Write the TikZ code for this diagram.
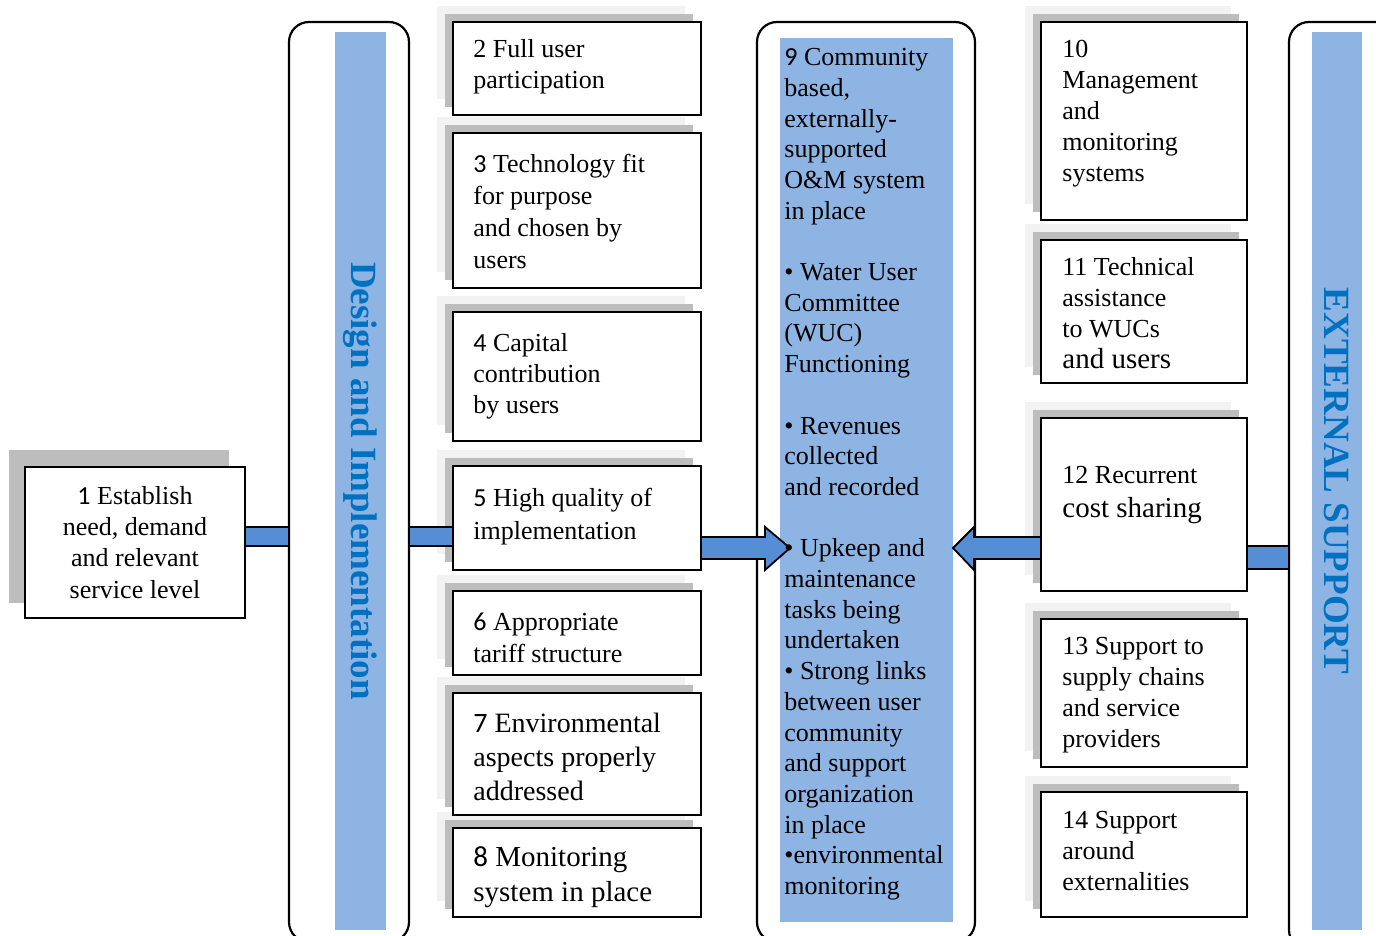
\documentclass[tikz,border=0pt]{standalone}
\usepackage{fontspec}
\setmainfont{Liberation Serif}
\newfontfamily\numfont{Carlito}
\usetikzlibrary{positioning}
\definecolor{bandblue}{HTML}{8EB4E3}
\definecolor{barblue}{HTML}{558ED5}
\definecolor{titleblue}{HTML}{0070C0}
\definecolor{shadelight}{HTML}{F2F2F2}
\definecolor{shadedark}{HTML}{BDBDBD}
\newcommand{\nsf}[1]{{\numfont #1}}

\begin{document}
\begin{tikzpicture}[x=0.5pt,y=-0.5pt,
    card/.style={draw, line width=1pt, fill=white, anchor=north west, inner sep=0pt, outer sep=0pt},
    txt/.style={align=left, inner sep=0pt, font=\fontsize{13}{15.5}\selectfont},
    frame/.style={draw, line width=1.1pt, fill=white, rounded corners=10pt, anchor=north west, inner sep=0pt, outer sep=0pt},
    band/.style={fill=bandblue, anchor=north west, inner sep=0pt, outer sep=0pt},
    bandtext/.style={text=titleblue, font=\fontsize{18.5}{22}\selectfont\bfseries, rotate=-90},
    bar/.style={draw, line width=0.9pt, fill=barblue}]
    \useasboundingbox (0,0) rectangle (1376,936);
    \clip (0,0) rectangle (1376,936);
    % three columns: frames with blue bands
    \node[frame, minimum width=60pt, minimum height=460pt] (dframe) at (289,22) {};
    \node[frame, minimum width=109pt, minimum height=460pt] (cframe) at (757,22) {};
    \node[frame, minimum width=70pt, minimum height=464pt] (eframe) at (1289,22) {};
    \node[band, minimum width=25.5pt, minimum height=449pt] (dband) at (335,32) {};
    \node[band, minimum width=86.5pt, minimum height=442pt] (cband) at (780,38) {};
    \node[band, minimum width=25pt, minimum height=449pt] (eband) at (1312,32) {};
    \node[bandtext] (dtitle) at (dband.center) {Design and Implementation};
    \node[bandtext] (etitle) at (eband.center) {EXTERNAL SUPPORT};
    % shadows behind the cards
    \fill[shadedark] (9,450) rectangle (229,603);
    \foreach \l/\t/\r/\b in {453/22/701/115, 453/133/701/288, 453/312/701/441,
        453/466/701/570, 453/591/701/675, 453/693/701/815, 453/828/701/917,
        1041/22/1247/220, 1041/240/1247/383, 1041/418/1247/591,
        1041/619/1247/767, 1041/792/1247/917} {
        \fill[shadelight] (\l-16,\t-16) rectangle (\r-16,\b-16);
        \fill[shadedark] (\l-8,\t-8) rectangle (\r-8,\b-8);
    }
    % cards
    \node[card, align=center, minimum width=110pt, minimum height=75.5pt,
        font=\fontsize{13}{15.6}\selectfont] (b1) at (25,467)
        {\nsf{1} Establish\\need, demand\\and relevant\\service level};
    \foreach \n/\l/\t/\r/\b in {2/453/22/701/115, 3/453/133/701/288, 4/453/312/701/441,
        5/453/466/701/570, 6/453/591/701/675, 7/453/693/701/815, 8/453/828/701/917,
        10/1041/22/1247/220, 11/1041/240/1247/383, 12/1041/418/1247/591,
        13/1041/619/1247/767, 14/1041/792/1247/917} {
        \node[card, minimum width={(\r-\l)*0.5pt}, minimum height={(\b-\t)*0.5pt}] (b\n) at (\l,\t) {};
    }
    % card texts
    \node[txt, below right=8.75pt and 10pt of b2.north west] (t2) {2 Full user\\participation};
    \node[txt, font=\fontsize{13}{16}\selectfont, below right=10.5pt and 10pt of b3.north west] (t3)
        {\nsf{3} Technology fit\\for purpose\\and chosen by\\users};
    \node[txt, below right=10.75pt and 10pt of b4.north west] (t4) {\nsf{4} Capital\\contribution\\by users};
    \node[txt, font=\fontsize{13}{16.5}\selectfont, below right=10.75pt and 10pt of b5.north west] (t5)
        {\nsf{5} High quality of\\implementation};
    \node[txt, font=\fontsize{13}{16}\selectfont, below right=10.75pt and 10pt of b6.north west] (t6)
        {\nsf{6} Appropriate\\tariff structure};
    \node[txt, font=\fontsize{14}{17}\selectfont, below right=9.75pt and 10pt of b7.north west] (t7)
        {\nsf{7} Environmental\\aspects properly\\addressed};
    \node[txt, font=\fontsize{14.5}{17.5}\selectfont, below right=9pt and 10pt of b8.north west] (t8)
        {\nsf{8} Monitoring\\system in place};
    \node[txt, below right=8.85pt and 10.5pt of b10.north west] (t10)
        {10\\Management\\and\\monitoring\\systems};
    \node[txt, below right=8.75pt and 10.5pt of b11.north west] (t11)
        {11 Technical\\assistance\\to WUCs\\{\fontsize{14.5}{17}\selectfont and users}};
    \node[txt, font=\fontsize{13}{17}\selectfont, below right=23.75pt and 10.5pt of b12.north west] (t12)
        {12 Recurrent\\{\fontsize{14.5}{17}\selectfont cost sharing}};
    \node[txt, below right=8.7pt and 10.5pt of b13.north west] (t13)
        {13 Support to\\supply chains\\and service\\providers};
    \node[txt, below right=9.35pt and 10.5pt of b14.north west] (t14)
        {14 Support\\around\\externalities};
    % connecting bars and block arrows
    \draw[bar] (b1.east |- 0,527) rectangle (dframe.west |- 0,546);
    \draw[bar] (dframe.east |- 0,527) rectangle (b5.west |- 0,546);
    \draw[bar] (b12.east |- 0,546) rectangle (eframe.west |- 0,569);
    \draw[bar] (b5.east |- 0,537) -- (765,537) -- (765,527) -- (790,548)
        -- (765,570) -- (765,559) -- (b5.east |- 0,559) -- cycle;
    \draw[bar] (b12.west |- 0,537) -- (974,537) -- (974,527) -- (953,548)
        -- (974,570) -- (974,559) -- (b12.west |- 0,559) -- cycle;
    % text of the central column
    \node[txt, anchor=north west, font=\fontsize{13}{15.35}\selectfont] (ctext) at (784,48)
        {\nsf{9} Community\\based,\\externally-\\supported\\O\&M system\\in place\\[15.35pt]
        • Water User\\Committee\\(WUC)\\Functioning\\[15.35pt]
        • Revenues\\collected\\and recorded\\[15.35pt]
        • Upkeep and\\maintenance\\tasks being\\undertaken\\• Strong links\\between user\\community\\and support\\organization\\in place\\•environmental\\monitoring};
\end{tikzpicture}
\end{document}
